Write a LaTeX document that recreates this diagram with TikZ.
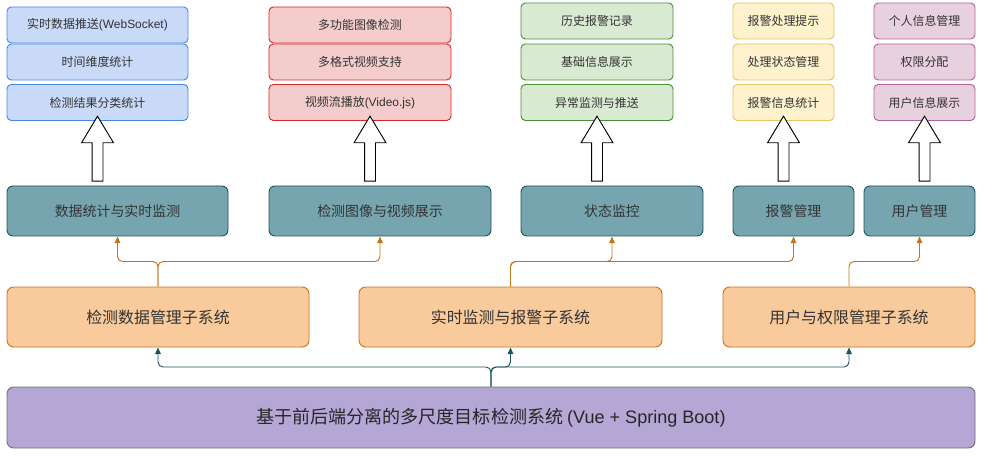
\documentclass[tikz,border=0pt]{standalone}
\usepackage{fontspec}
\setmainfont{Noto Sans CJK SC}
\newfontfamily\latin{Liberation Sans}
\usetikzlibrary{shapes.arrows, arrows.meta, calc}

\newcommand{\pxu}{0.03cm}

\definecolor{txt}{HTML}{333333}
\definecolor{bluefill}{HTML}{C9DAF8}
\definecolor{bluedraw}{HTML}{4A86E8}
\definecolor{redfill}{HTML}{F4CCCC}
\definecolor{reddraw}{HTML}{D42A2A}
\definecolor{greenfill}{HTML}{D9EAD3}
\definecolor{greendraw}{HTML}{4E8F33}
\definecolor{yellowfill}{HTML}{FFF2CC}
\definecolor{yellowdraw}{HTML}{E3C563}
\definecolor{pinkfill}{HTML}{E8D1DE}
\definecolor{pinkdraw}{HTML}{B5639D}
\definecolor{tealfill}{HTML}{76A5AF}
\definecolor{tealdraw}{HTML}{1B5460}
\definecolor{orangefill}{HTML}{F9CB9C}
\definecolor{orangedraw}{HTML}{C7741F}
\definecolor{purplefill}{HTML}{B4A7D6}
\definecolor{purpledraw}{HTML}{707070}

\tikzset{
  item/.style={rectangle, rounded corners=0.13cm, draw, line width=0.8pt, text=txt,
    font=\fontsize{10.2}{12}\selectfont, minimum height=36*\pxu, inner sep=0pt},
  bluebox/.style={item, fill=bluefill, draw=bluedraw, minimum width=181*\pxu},
  redbox/.style={item, fill=redfill, draw=reddraw, minimum width=182*\pxu},
  greenbox/.style={item, fill=greenfill, draw=greendraw, minimum width=152*\pxu},
  yellowbox/.style={item, fill=yellowfill, draw=yellowdraw, minimum width=101*\pxu},
  pinkbox/.style={item, fill=pinkfill, draw=pinkdraw, minimum width=101*\pxu},
  module/.style={rectangle, rounded corners=0.18cm, draw=tealdraw, fill=tealfill, line width=0.8pt,
    text=txt, font=\fontsize{11.9}{14}\selectfont, minimum height=50*\pxu, inner sep=0pt},
  subsys/.style={rectangle, rounded corners=0.2cm, draw=orangedraw, fill=orangefill, line width=0.8pt,
    text=txt, font=\fontsize{13.6}{16}\selectfont, minimum height=60*\pxu, inner sep=0pt},
  system/.style={rectangle, rounded corners=0.2cm, draw=purpledraw, fill=purplefill, line width=0.8pt,
    text=black!85, font=\fontsize{15.4}{18}\selectfont, minimum height=61*\pxu, inner sep=0pt},
  hollow/.style={single arrow, draw=black, fill=white, line width=0.8pt, rotate=90,
    inner sep=5*\pxu, single arrow head extend=10.5*\pxu, single arrow tip angle=62,
    minimum height=65*\pxu},
  oline/.style={draw=orangedraw, line width=0.8pt, rounded corners=0.15cm,
    -{Triangle[length=0.2cm, width=0.17cm]}},
  tline/.style={draw=tealdraw, line width=0.8pt, rounded corners=0.15cm,
    -{Triangle[length=0.2cm, width=0.17cm]}}
}

\begin{document}
\begin{tikzpicture}[x=\pxu, y=-\pxu]

    \useasboundingbox (0,0) rectangle (991,459);

    % feature boxes
    \node (b1) [bluebox] at (97.5,25) {实时数据推送{\latin (WebSocket)}};
    \node (b2) [bluebox] at (97.5,62) {时间维度统计};
    \node (b3) [bluebox] at (97.5,102.5) {检测结果分类统计};

    \node (r1) [redbox] at (360,25) {多功能图像检测};
    \node (r2) [redbox] at (360,62) {多格式视频支持};
    \node (r3) [redbox] at (360,102.5) {视频流播放{\latin (Video.js)}};

    \node (g1) [greenbox] at (597,21) {历史报警记录};
    \node (g2) [greenbox] at (597,62) {基础信息展示};
    \node (g3) [greenbox] at (597,102.5) {异常监测与推送};

    \node (y1) [yellowbox] at (783.5,21) {报警处理提示};
    \node (y2) [yellowbox] at (783.5,62) {处理状态管理};
    \node (y3) [yellowbox] at (783.5,102.5) {报警信息统计};

    \node (p1) [pinkbox] at (924.5,21) {个人信息管理};
    \node (p2) [pinkbox] at (924.5,62) {权限分配};
    \node (p3) [pinkbox] at (924.5,102.5) {用户信息展示};

    % modules
    \node (t1) [module, minimum width=221*\pxu] at (117.5,211) {数据统计与实时监测};
    \node (t2) [module, minimum width=222*\pxu] at (380,211) {检测图像与视频展示};
    \node (t3) [module, minimum width=182*\pxu] at (612,211) {状态监控};
    \node (t4) [module, minimum width=121*\pxu] at (793.5,211) {报警管理};
    \node (t5) [module, minimum width=111*\pxu] at (919.5,211) {用户管理};

    % subsystems
    \node (o1) [subsys, minimum width=302*\pxu] at (158,317) {检测数据管理子系统};
    \node (o2) [subsys, minimum width=303*\pxu] at (510.5,317) {实时监测与报警子系统};
    \node (o3) [subsys, minimum width=252*\pxu] at (849,317) {用户与权限管理子系统};

    \node (base) [system, minimum width=968*\pxu] at (491,417.5)
        {基于前后端分离的多尺度目标检测系统 {\latin (Vue + Spring Boot)}};

    % hollow arrows
    \node (a1) [hollow] at ($(b3.south)!0.5!(b3.south |- t1.north)$) {};
    \node (a2) [hollow] at ($(r3.south)!0.5!(t2.north)$) {};
    \node (a3) [hollow] at ($(g3.south)!0.5!(g3.south |- t3.north)$) {};
    \node (a4) [hollow] at ($(y3.south)!0.5!(y3.south |- t4.north)$) {};
    \node (a5) [hollow] at ($(p3.south)!0.5!(p3.south |- t5.north)$) {};

    % subsystem -> module
    \coordinate (j1) at ($(o1.north)!0.5!(o1.north |- t1.south)$);
    \coordinate (j2) at ($(o2.north)!0.5!(o2.north |- t1.south)$);
    \coordinate (j3) at ($(o3.north)!0.5!(o3.north |- t1.south)$);

    \draw [oline] (o1.north) -- (j1) -| (t1.south);
    \draw [oline] (o1.north) -- (j1) -| (t2.south);
    \draw [oline] (o2.north) -- (j2) -| (t3.south);
    \draw [oline] (o2.north) -- (j2) -| (t4.south);
    \draw [oline] (o3.north) -- (j3) -| (t5.south);

    % system -> subsystem
    \coordinate (k) at ($(base.north)!0.5!(base.north |- o1.south)$);

    \draw [tline] (base.north) -- (k) -| (o1.south);
    \draw [tline] (base.north) -- (k) -| (o2.south);
    \draw [tline] (base.north) -- (k) -| (o3.south);

\end{tikzpicture}
\end{document}
